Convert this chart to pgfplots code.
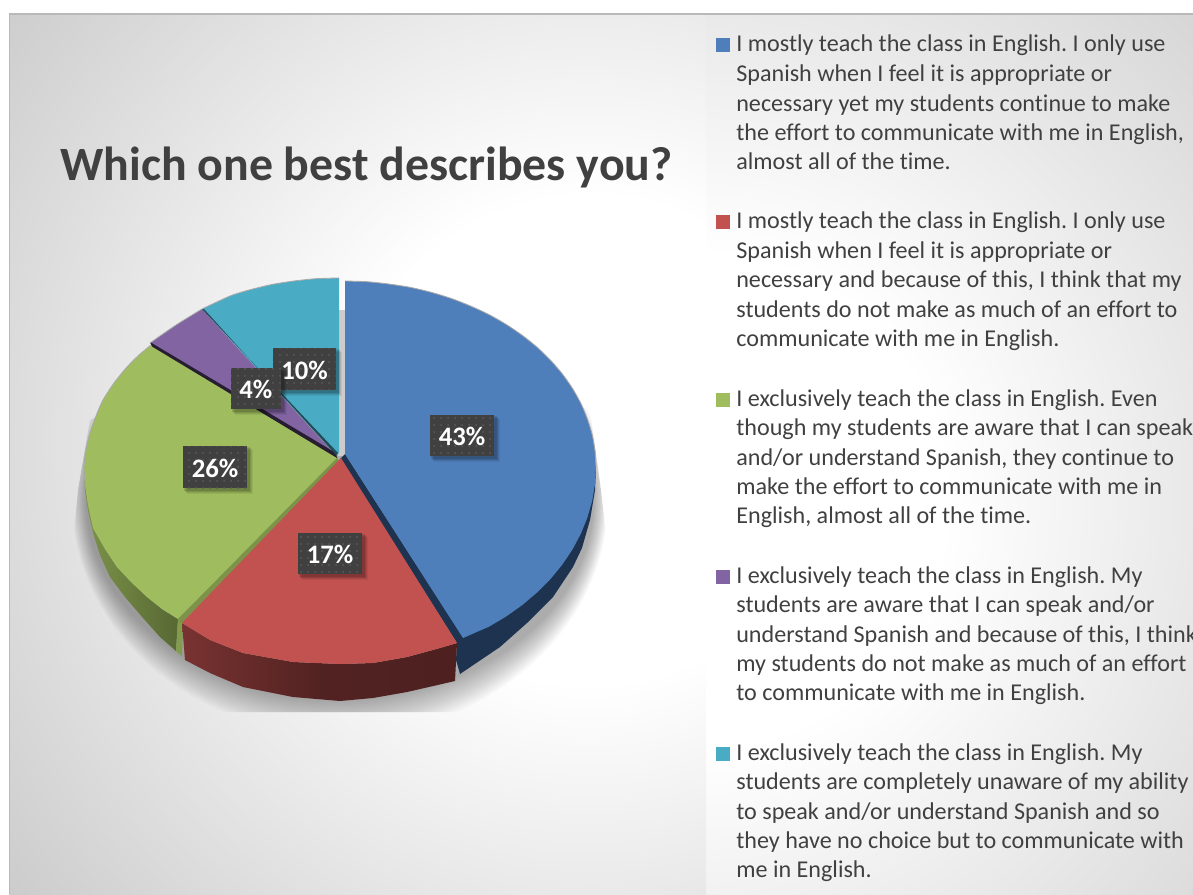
\documentclass[border=0pt]{standalone}
\usepackage{fontspec}
\setmainfont[Ligatures=NoCommon]{Carlito}
\usepackage{pgfplots}
\pgfplotsset{compat=1.18}
\usetikzlibrary{patterns.meta}
\definecolor{cBlue}{HTML}{4F7FBA}
\definecolor{cRed}{HTML}{C25250}
\definecolor{cGreen}{HTML}{9FBD5E}
\definecolor{cPurple}{HTML}{8264A3}
\definecolor{cCyan}{HTML}{4AABC5}
\definecolor{cNavy}{HTML}{1D3350}
\definecolor{cText}{HTML}{404040}
\definecolor{cEdge}{HTML}{A8A8A8}
\definecolor{cGrayA}{HTML}{C0C0C0}
\definecolor{cGrayB}{HTML}{CCCCCC}
\pgfdeclareradialshading{bgl}{\pgfpoint{0bp}{0bp}}{color(0bp)=(white);color(8bp)=(white);color(28bp)=(cGrayA);color(50bp)=(cGrayA)}
\pgfdeclareradialshading{bgr}{\pgfpoint{0bp}{0bp}}{color(0bp)=(white);color(8.5bp)=(white);color(28bp)=(cGrayB);color(50bp)=(cGrayB)}
\newcommand{\lab}[5]{%
  \fill[black,opacity=0.06] ({#1+4},{#2+4}) rectangle ({#3+6},{#4+6});
  \fill[black,opacity=0.08] ({#1+3},{#2+3}) rectangle ({#3+5},{#4+5});
  \fill[black,opacity=0.10] ({#1+2},{#2+2}) rectangle ({#3+4},{#4+4});
  \fill[black,opacity=0.12] ({#1+1},{#2+1}) rectangle ({#3+3},{#4+3});
  \fill[cText] (#1,#2) rectangle (#3,#4);
  \begin{scope}
  \clip (#1,#2) rectangle (#3,#4);
  \fill[pattern={Dots[radius=0.6pt,distance=4.2pt]},pattern color=white!14!cText] (#1,#2) rectangle (#3,#4);
  \end{scope}
  \node[text=white,font=\fontsize{16pt}{17pt}\selectfont\bfseries,anchor=center] at ({(#1+#3)/2},{(#2+#4)/2+1}) {#5};}
\newcommand{\leg}[2]{\node[anchor=base west,inner sep=0pt,text=cText,font=\fontsize{14.47pt}{15pt}\selectfont\frenchspacing] at (736,#1) {#2};}
\begin{document}
\begin{tikzpicture}
\useasboundingbox (0,0) rectangle (715.8pt,536.4pt);
\clip (0,0) rectangle (715.8pt,536.4pt);
\begin{scope}[x=0.6pt,y=-0.6pt,yshift=536.4pt]
  \fill[white] (0,0) rectangle (1193,894);
  % left plot background
  \begin{scope}
    \clip (9,14) rectangle (707,894);
    \shade[shading=bgl] (590,440) circle (760);
  \end{scope}
  % right panel background
  \begin{scope}
    \clip (706,14) rectangle (1193,894);
    \shade[shading=bgr] (700,500) circle (720);
  \end{scope}
  \fill[cEdge!80!white] (9,13) rectangle (1193,15);
  \fill[cEdge!80!white] (9,13) rectangle (10,894);
  % pie shadow
  \begin{scope}
    \clip (70,712) -- (611,712) -- (611,580) -- (601,490) -- (590,410) -- (345,310) -- (338,310) -- (90,420) -- (78,490) -- (70,575) -- cycle;
    \foreach \k in {0,...,14}{%
      \fill[black,opacity=0.022] (340,500) ellipse [x radius=254+\k, y radius=200+2.5*\k];}
  \end{scope}
  \fill[cGrayB] (338,310) rectangle (345,456);
  % legend keys
  \fill[cBlue]   (716,38.3) rectangle (730,52.3);
  \fill[cRed]    (716,215.3) rectangle (730,229.3);
  \fill[cGreen]  (716,392.7) rectangle (730,406.7);
  \fill[cPurple] (716,569.7) rectangle (730,583.7);
  \fill[cCyan]   (716,746.7) rectangle (730,760.7);
\end{scope}
\begin{axis}[at={(0,0)},anchor=south west,scale only axis,width=715.8pt,height=536.4pt,
  xmin=0,xmax=1193,ymin=0,ymax=894,y dir=reverse,hide axis,clip=false,no markers]
% ---- side walls
\addplot[draw=none,forget plot,left color=cGreen!78!black,right color=cGreen!55!black] coordinates {
 (84,467)(85,490)(88,510)(93,533)(100,555)(110,577)(125,597)(143,618)(160,637)(176,651)(178,619)(162,609)(147,597)(131,582)(117,567)(105,549)(93,528)(88,505)(85,484)};
\addplot[draw=none,forget plot,fill=cGreen!82!black] coordinates {(176,651)(182,656)(183,623)(178,619)};
\addplot[draw=none,forget plot,fill=cNavy] coordinates {
 (340,459)(345,454)(463,637)(580,500)(596,467)(595,490)(590,520)(582,548)(573,567)(553,597)(527,623)(500,647)(460,674)(456,660)(457,643)};
\addplot[draw=none,forget plot,left color=cRed!62!black,right color=cRed!40!black,middle color=cRed!42!black] coordinates {
 (182,623)(185,660)(210,673)(243,687)(293,697)(340,701)(373,698)(407,692)(455,681)(457,643)(440,648)(407,657)(373,663)(340,664)(293,662)(243,653)(210,640)};
% ---- top faces
\addplot[draw=none,fill=cCyan,forget plot] coordinates {
 (339,278)(315.9,278.7)(294,281)(272.3,284.4)(251,289.5)(230.7,295.7)(202,309)(337,456)(339,452)};
\addplot[draw=none,fill=cPurple,forget plot] coordinates {
 (202,309)(176,325)(150,343)(336,456)(338,458)};
\addplot[draw=none,fill=cGreen,forget plot] coordinates {
 (151,345)(139,355)(127,367)(114,383)(103,400)(96,416)(90,433)(86,450)(84,467)(85,484)(88,505)(93,528)(105,549)(117,567)(131,582)(147,597)(162,609)(178,619)(337,461)(337,456)};
\addplot[draw=none,fill=black!70!cPurple,forget plot] coordinates {(150,342)(336,453)(337,458)(152,346.5)};
\addplot[draw=none,fill=black!55!cCyan,forget plot] coordinates {(202,309)(338,453)(336,455)(204,309)};
\addplot[draw=none,fill=cGreen!78!black,forget plot] coordinates {(337,458)(340,461)(182,624)(178,619)};
\addplot[draw=none,fill=cRed,forget plot] coordinates {
 (341,458)(182,623)(210,640)(243,653)(293,662)(340,664)(373,663)(407,657)(440,648)(457,643)};
\addplot[draw=none,fill=cBlue,forget plot] coordinates {
 (345,281)(366.9,281.7)(388.6,284)(410,287.3)(430.8,292.2)(451.1,298.4)(470.5,306)(489,314.6)(506.3,324.5)(522.5,335.5)(537.3,347.4)(550.6,360.3)(562.4,374)(572.5,388.4)(580.9,403.4)(587.4,418.9)(592.2,434.7)(595,450.8)(596,467)(595,484)(592.2,500.9)(587.4,517.5)(580.9,533.7)(572.5,549.4)(562.4,564.5)(550.6,578.9)(537.3,592.3)(522.5,604.9)(506.3,616.4)(489,626.7)(463,638)(345,454)};
% ---- thin rim on the upper arcs
\addplot[cEdge,line width=0.5pt,smooth,forget plot] coordinates {(339,278)(315.9,278.7)(294,281)(272.3,284.4)(251,289.5)(230.7,295.7)(202,309)};
\addplot[cEdge,line width=0.5pt,smooth,forget plot] coordinates {(202,309)(176,325)(150,343)};
\addplot[cEdge,line width=0.5pt,smooth,forget plot] coordinates {(151,345)(139,355)(127,367)(114,383)(103,400)(96,416)(90,433)(86,450)(84,467)(85,484)};
\addplot[cEdge,line width=0.5pt,smooth,forget plot] coordinates {(345,281)(366.9,281.7)(388.6,284)(410,287.3)(430.8,292.2)(451.1,298.4)(470.5,306)(489,314.6)(506.3,324.5)(522.5,335.5)(537.3,347.4)(550.6,360.3)(562.4,374)(572.5,388.4)(580.9,403.4)(587.4,418.9)(592.2,434.7)(595,450.8)(596,467)};
% ---- texts
\node[anchor=base west,inner sep=0pt,text=cText,font=\fontsize{28.7pt}{30pt}\selectfont\bfseries] at (60,180) {Which one best describes you?};
\lab{273.3}{348.3}{336}{390}{10\%}
\lab{231}{367.7}{280.7}{408.7}{4\%}
\lab{183}{446}{247}{488}{26\%}
\lab{430}{415}{494}{456}{43\%}
\lab{298}{533}{362}{574}{17\%}
\leg{52}{I mostly teach the class in English. I only use}
\leg{81}{Spanish when I feel it is appropriate or}
\leg{111}{necessary yet my students continue to make}
\leg{140}{the effort to communicate with me in English,}
\leg{169}{almost all of the time.}
\leg{228.5}{I mostly teach the class in English. I only use}
\leg{258}{Spanish when I feel it is appropriate or}
\leg{287.5}{necessary and because of this, I think that my}
\leg{317}{students do not make as much of an effort to}
\leg{346}{communicate with me in English.}
\leg{406}{I exclusively teach the class in English. Even}
\leg{435}{though my students are aware that I can speak}
\leg{465}{and/or understand Spanish, they continue to}
\leg{494}{make the effort to communicate with me in}
\leg{523}{English, almost all of the time.}
\leg{583}{I exclusively teach the class in English. My}
\leg{612}{students are aware that I can speak and/or}
\leg{642}{understand Spanish and because of this, I think}
\leg{671}{my students do not make as much of an effort}
\leg{700}{to communicate with me in English.}
\leg{760}{I exclusively teach the class in English. My}
\leg{789}{students are completely unaware of my ability}
\leg{819}{to speak and/or understand Spanish and so}
\leg{848}{they have no choice but to communicate with}
\leg{877}{me in English.}
\end{axis}
\end{tikzpicture}
\end{document}
